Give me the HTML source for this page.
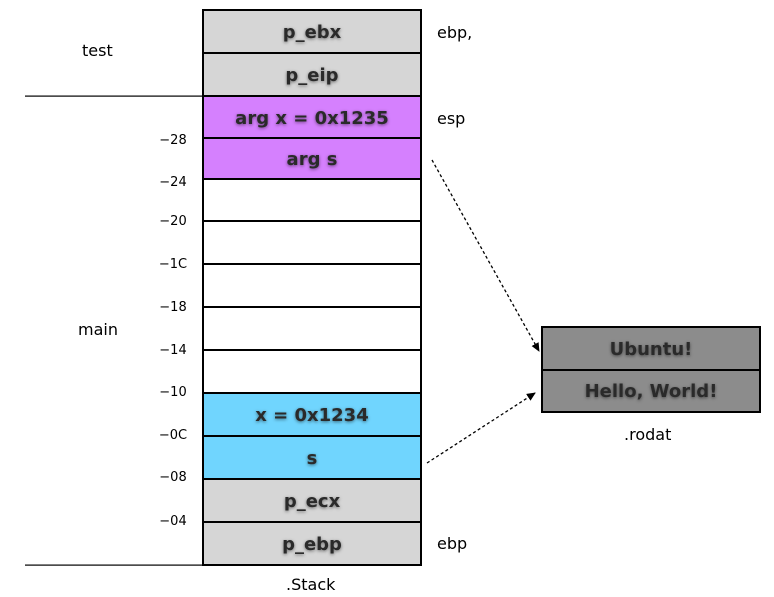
<!DOCTYPE html>
<html><head><meta charset="utf-8"><style>
html,body{margin:0;padding:0;background:#fff;}
svg{display:block;}
text{font-family:"DejaVu Sans","Liberation Sans",sans-serif;}
.b{font-weight:bold;font-size:18px;fill:#2a2a2a;text-anchor:middle;filter:url(#sh);}
.n{font-size:16px;fill:#000;}
.o{font-size:13px;fill:#000;text-anchor:middle;}
</style></head><body>
<svg width="774" height="597" viewBox="0 0 774 597">
<defs>
<filter id="sh" x="-20%" y="-50%" width="140%" height="200%"><feDropShadow dx="0" dy="1" stdDeviation="1.5" flood-color="#000" flood-opacity="0.5"/></filter>
<marker id="ah" markerWidth="10" markerHeight="10" refX="8" refY="4" orient="auto" markerUnits="userSpaceOnUse"><path d="M0,0 L9,4 L0,8 Z" fill="#000"/></marker>
</defs>
<g stroke="#000" stroke-width="2">
<rect x="203" y="10" width="218" height="43" fill="#d6d6d6"/>
<rect x="203" y="53" width="218" height="43" fill="#d6d6d6"/>
<rect x="203" y="96" width="218" height="42" fill="#d580fe"/>
<rect x="203" y="138" width="218" height="41" fill="#d580fe"/>
<rect x="203" y="179" width="218" height="42" fill="#fff"/>
<rect x="203" y="221" width="218" height="43" fill="#fff"/>
<rect x="203" y="264" width="218" height="43" fill="#fff"/>
<rect x="203" y="307" width="218" height="43" fill="#fff"/>
<rect x="203" y="350" width="218" height="43" fill="#fff"/>
<rect x="203" y="393" width="218" height="43" fill="#70d5fe"/>
<rect x="203" y="436" width="218" height="43" fill="#70d5fe"/>
<rect x="203" y="479" width="218" height="43" fill="#d6d6d6"/>
<rect x="203" y="522" width="218" height="43" fill="#d6d6d6"/>
<rect x="542" y="327" width="218" height="43" fill="#8c8c8c"/>
<rect x="542" y="370" width="218" height="42" fill="#8c8c8c"/>
</g>
<rect x="25" y="95.5" width="178" height="1.2" fill="#000"/>
<rect x="25" y="564.5" width="178" height="1.2" fill="#000"/>
<line x1="432" y1="160" x2="539" y2="351" stroke="#000" stroke-width="1.3" stroke-dasharray="3,2.5" marker-end="url(#ah)"/>
<line x1="427" y1="463" x2="535" y2="393" stroke="#000" stroke-width="1.3" stroke-dasharray="3,2.5" marker-end="url(#ah)"/>
<text class="b" x="312" y="38">p_ebx</text>
<text class="b" x="312" y="81">p_eip</text>
<text class="b" x="312" y="124">arg x = 0x1235</text>
<text class="b" x="312" y="165">arg s</text>
<text class="b" x="312" y="421">x = 0x1234</text>
<text class="b" x="312" y="464">s</text>
<text class="b" x="312" y="507">p_ecx</text>
<text class="b" x="312" y="550">p_ebp</text>
<text class="b" x="651" y="355">Ubuntu!</text>
<text class="b" x="651" y="397">Hello, World!</text>
<text class="n" x="82" y="56">test</text>
<text class="n" x="78" y="335">main</text>
<text class="n" x="437" y="38">ebp,</text>
<text class="n" x="437" y="124">esp</text>
<text class="n" x="437" y="549">ebp</text>
<text class="n" x="286" y="590">.Stack</text>
<text class="n" x="624" y="440">.rodat</text>
<text class="o" x="173" y="144">−28</text>
<text class="o" x="173" y="186">−24</text>
<text class="o" x="173" y="225">−20</text>
<text class="o" x="173" y="268">−1C</text>
<text class="o" x="173" y="311">−18</text>
<text class="o" x="173" y="354">−14</text>
<text class="o" x="173" y="396">−10</text>
<text class="o" x="173" y="439">−0C</text>
<text class="o" x="173" y="481">−08</text>
<text class="o" x="173" y="525">−04</text>
</svg>
</body></html>
